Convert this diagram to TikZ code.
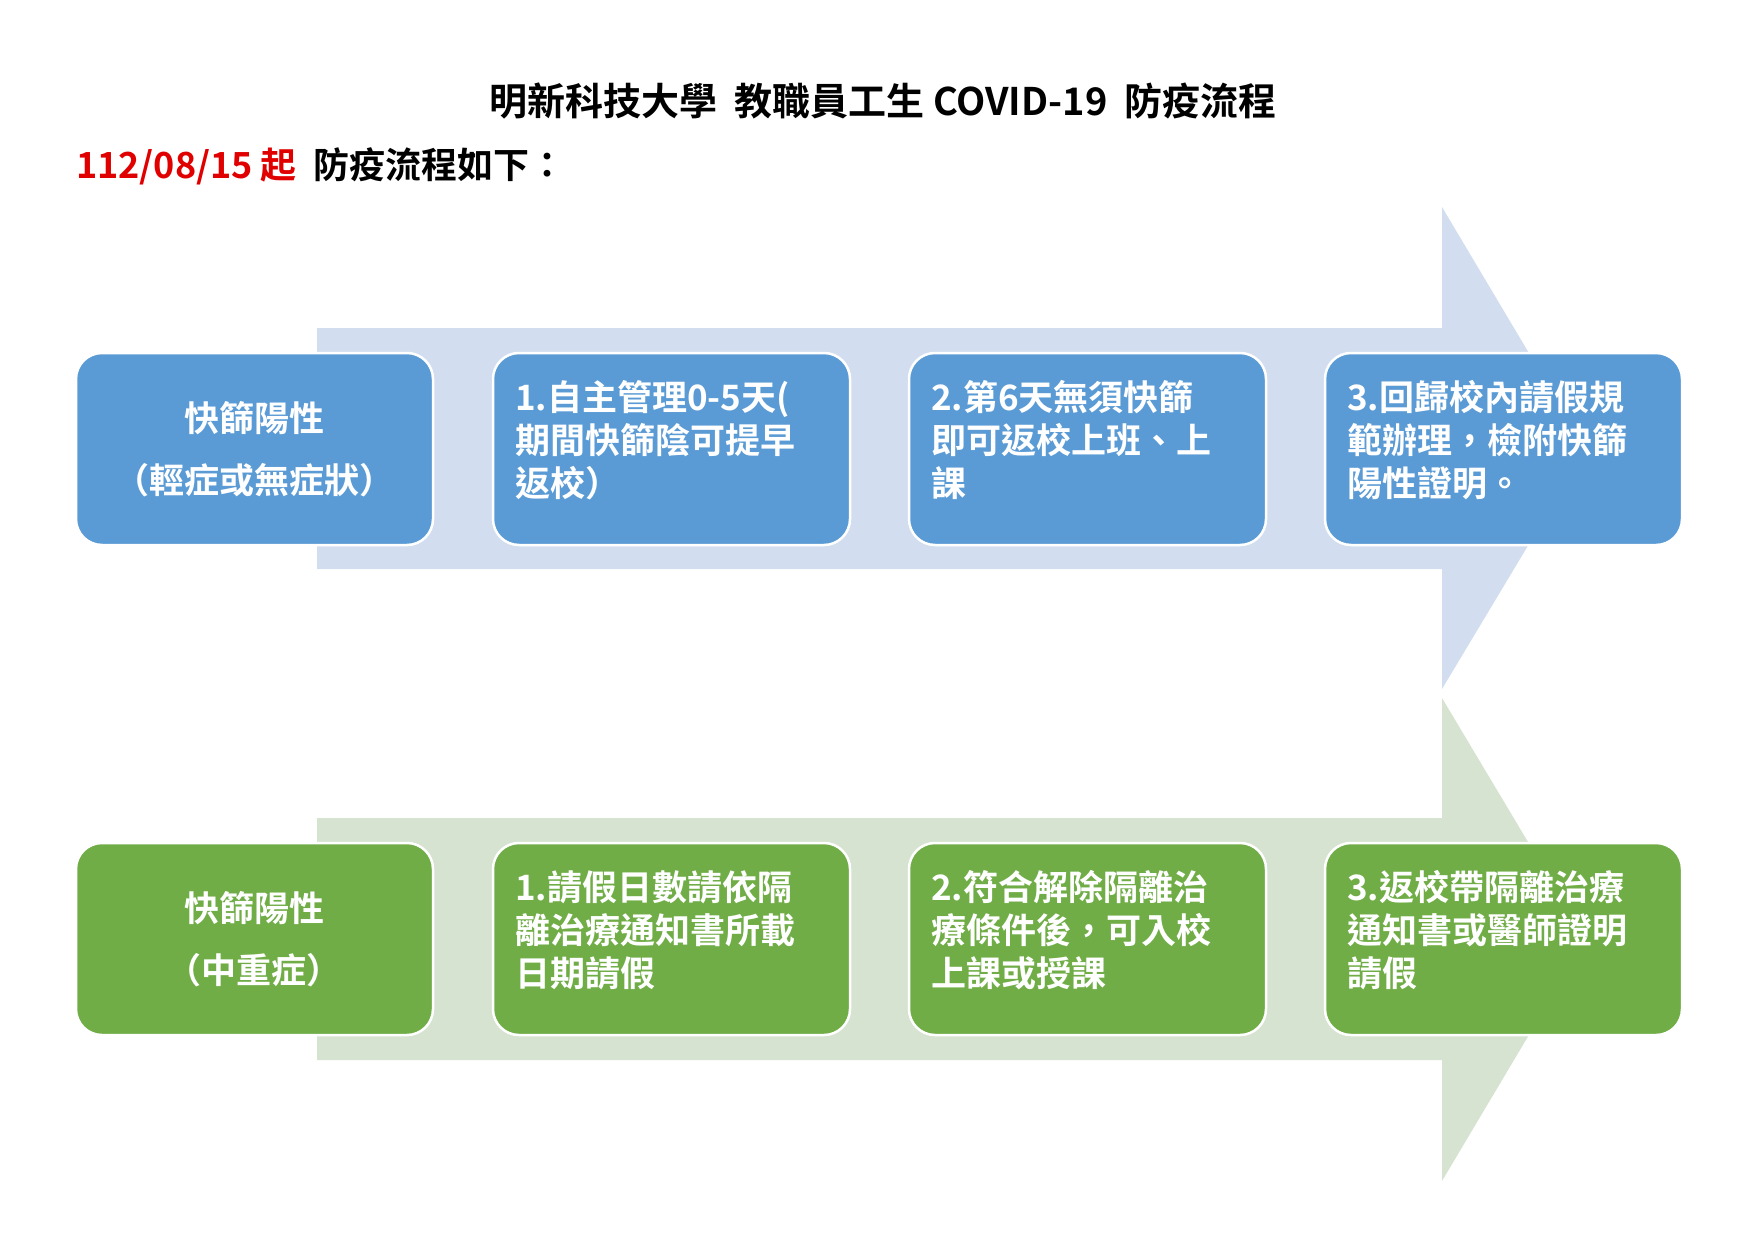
\documentclass[tikz,border=0pt]{standalone}
\usepackage{fontspec}
\setmainfont{Noto Sans CJK TC}[BoldFont={* Bold}]
\definecolor{bbox}{HTML}{5B9BD5}
\definecolor{barrow}{HTML}{D2DEEF}
\definecolor{gbox}{HTML}{70AD47}
\definecolor{garrow}{HTML}{D6E3D0}
\definecolor{redt}{HTML}{E00000}
\begin{document}
\begin{tikzpicture}[x=1pt,y=-1pt,
  box/.style={draw=white,line width=2.5pt,rounded corners=26pt},
  txt/.style={text=white,font=\fontsize{35}{43}\selectfont\bfseries,align=left,anchor=north west,inner sep=0pt},
  ctxt/.style={text=white,font=\fontsize{35}{62}\selectfont\bfseries,align=center,inner sep=0pt}]
\useasboundingbox (0,0) rectangle (1755,1241);
\node[font=\fontsize{38}{40}\selectfont\bfseries] (title) at (883,101) {明新科技大學\ \ 教職員工生 COVID-19\ \ 防疫流程};
\node[font=\fontsize{36}{40}\selectfont\bfseries,anchor=west,inner sep=0pt] (sub) at (76,166) {\textcolor{redt}{112/08/15 起}\ \ 防疫流程如下：};
% arrows
\fill[barrow] (317,328) -- (1442,328) -- (1442,207) -- (1586,449) -- (1442,689) -- (1442,569) -- (317,569) -- cycle;
\fill[garrow] (317,818) -- (1442,818) -- (1442,698) -- (1586,939) -- (1442,1181) -- (1442,1060) -- (317,1060) -- cycle;
% boxes
\foreach \n/\x in {a/76,b/493,c/909,d/1325}{
  \draw[box,fill=bbox] (\x,353) rectangle ++(357,192) coordinate (t\n);
  \draw[box,fill=gbox] (\x,843) rectangle ++(357,192) coordinate (g\n);
}
\node[ctxt] (ta) at (254,449) {快篩陽性\\（輕症或無症狀）};
\node[txt] (tb) at (515,380) {1.自主管理0-5天(\\期間快篩陰可提早\\返校）};
\node[txt] (tc) at (931,380) {2.第6天無須快篩\\即可返校上班、上\\課};
\node[txt] (td) at (1347,380) {3.回歸校內請假規\\範辦理，檢附快篩\\陽性證明。};
\node[ctxt] (ga) at (254,939) {快篩陽性\\（中重症）};
\node[txt] (gb) at (515,870) {1.請假日數請依隔\\離治療通知書所載\\日期請假};
\node[txt] (gc) at (931,870) {2.符合解除隔離治\\療條件後，可入校\\上課或授課};
\node[txt] (gd) at (1347,870) {3.返校帶隔離治療\\通知書或醫師證明\\請假};
\end{tikzpicture}
\end{document}
